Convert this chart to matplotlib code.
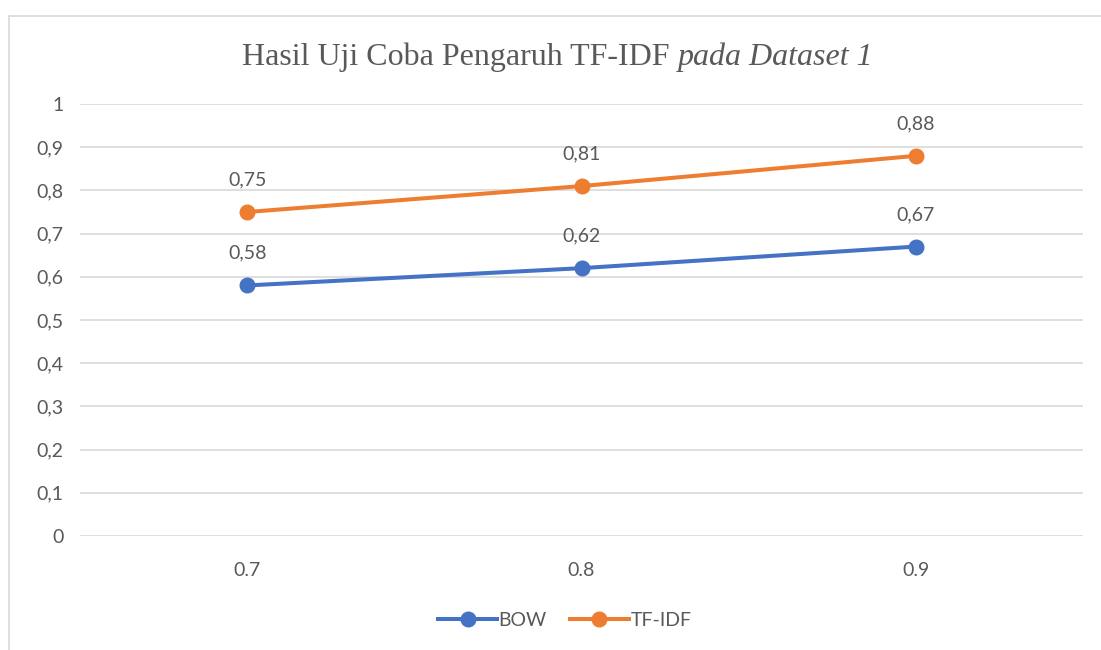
import matplotlib.pyplot as plt
from matplotlib.lines import Line2D

categories = ["0.7", "0.8", "0.9"]
bow = [0.58, 0.62, 0.67]
tfidf = [0.75, 0.81, 0.88]
y_ticks = [0, 0.1, 0.2, 0.3, 0.4, 0.5, 0.6, 0.7, 0.8, 0.9, 1]

BLUE = "#4472C4"
ORANGE = "#ED7D31"
TXT = "#595959"

fig = plt.figure(figsize=(11.01, 6.5), dpi=100)
ax = fig.add_axes([80 / 1101, 1 - 536 / 650, (1083 - 80) / 1101, (536 - 104) / 650])

x = list(range(1, len(categories) + 1))
for vals, col, name in [(bow, BLUE, "BOW"), (tfidf, ORANGE, "TF-IDF")]:
    ax.plot(x, vals, color=col, lw=2.9, marker="o", ms=10.5, label=name,
            solid_capstyle="round", zorder=3)
    for xi, v in zip(x, vals):
        ax.annotate(f"{v:.2f}".replace(".", ","), (xi, v), xytext=(0, 17),
                    textcoords="offset points", ha="center", va="bottom",
                    fontsize=14, color=TXT, family="Lato")

ax.set_xlim(0.5, 3.5)
ax.set_ylim(0, 1)
ax.set_xticks(x)
ax.set_xticklabels(categories)
ax.set_yticks(y_ticks)
ax.set_yticklabels([f"{t:g}".replace(".", ",") for t in y_ticks])
ax.tick_params(length=0, labelsize=14, labelcolor=TXT, pad=12)
ax.tick_params(axis="x", pad=19)
for lab in ax.get_xticklabels() + ax.get_yticklabels():
    lab.set_family("Lato")
ax.grid(axis="y", color="#D9D9D9", lw=1.2)
ax.set_axisbelow(True)
for s in ax.spines.values():
    s.set_visible(False)

ty = 1 - 57 / 650
fig.text(678 / 1101, ty, "Hasil Uji Coba Pengaruh TF-IDF ", ha="right", va="center",
         fontsize=23, color=TXT, family="Liberation Serif")
fig.text(678 / 1101, ty, "pada Dataset 1", ha="left", va="center",
         fontsize=23, color=TXT, family="Liberation Serif", style="italic")

handles = [Line2D([], [], color=BLUE, lw=2.9, marker="o", ms=10.5),
           Line2D([], [], color=ORANGE, lw=2.9, marker="o", ms=10.5)]
fig.legend(handles, ["BOW", "TF-IDF"], loc="center", bbox_to_anchor=(565 / 1101, 1 - 620 / 650),
           ncol=2, frameon=False, handlelength=3.0, handletextpad=0.1, columnspacing=1.2,
           prop={"family": "Lato", "size": 14}, labelcolor=TXT)

# frame lines at top and left
fig.add_artist(Line2D([9 / 1101, 1], [1 - 16 / 650] * 2, color="#D9D9D9", lw=1.2))
fig.add_artist(Line2D([9 / 1101] * 2, [0, 1 - 16 / 650], color="#D9D9D9", lw=1.2))

fig.savefig("out.png", dpi=100)
